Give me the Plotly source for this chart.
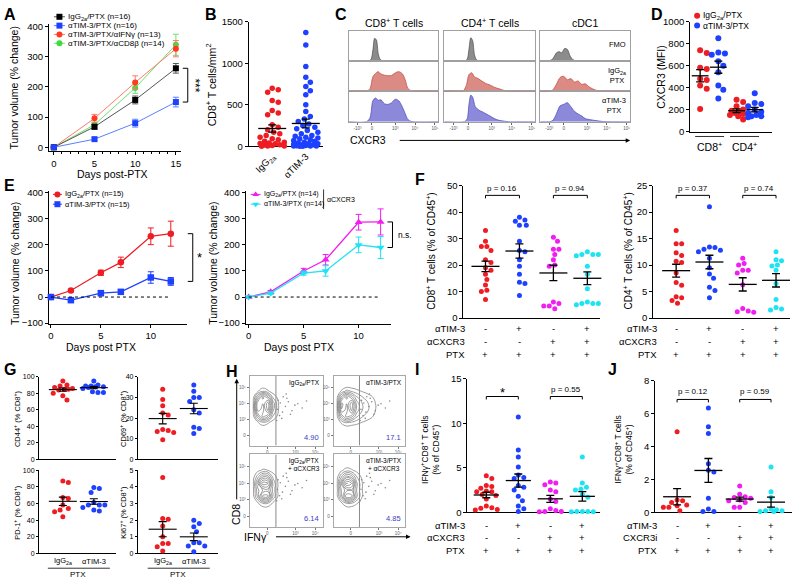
import numpy as np
import plotly.graph_objects as go

W, H = 795, 584
FONT = "Liberation Sans, Arial, Helvetica, sans-serif"
RED = "#ee1d23"; BLUE = "#1e40ff"; MAG = "#f01ef0"; CYAN = "#1ee3f2"
GREEN = "#3cdc3c"; BLACK = "#000000"; NUMBLUE = "#3c3cc8"

# ---------------- data ----------------
# A
a_days = [0, 5, 10, 15]
a_names = ["IgG<sub>2a</sub>/PTX (n=16)", "αTIM-3/PTX (n=16)", "αTIM-3/PTX/αIFNγ (n=13)", "αTIM-3/PTX/αCD8β (n=14)"]
a_igg = [0, 68, 157, 262]; a_igg_err = [2, 8, 13, 16]
a_tim = [0, 27, 80, 150]; a_tim_err = [2, 5, 13, 16]
a_ifng = [0, 96, 215, 327]; a_ifng_err = [2, 13, 22, 27]
a_cd8 = [0, 75, 197, 340]; a_cd8_err = [2, 8, 18, 35]

# B
b_cats = ["IgG<sub>2a</sub>", "αTIM-3"]
b_igg = [700, 680, 650, 550, 530, 430, 400, 380, 260, 230, 200, 170, 150, 130, 110, 90, 80, 60,
         50, 40, 35, 30, 20, 15, 10, 5, 5, 0]
b_tim = [1370, 1220, 960, 830, 770, 720, 670, 620, 500, 420, 360, 330, 300, 270, 250, 230, 210, 190,
         170, 150, 130, 120, 110, 100, 90, 80, 70, 60, 50, 40, 35, 30, 25, 20, 15, 10, 8, 5, 5, 3, 0, 0]

# C (flow histograms, CXCR3 axis in % of display width)
c_titles = ["CD8<sup>+</sup> T cells", "CD4<sup>+</sup> T cells", "cDC1"]
c_rowlab = ["FMO", "IgG<sub>2a</sub><br>PTX", "αTIM-3<br>PTX"]
c_hist = [
    [([0, 22, 25, 27, 29, 31, 33, 35, 38, 100], [0, 0, 0.05, 0.35, 0.78, 0.72, 0.25, 0.06, 0, 0]),
     ([0, 20, 24, 27, 30, 33, 36, 40, 44, 48, 52, 56, 60, 63, 66, 70, 100],
      [0, 0, 0.1, 0.5, 0.62, 0.68, 0.6, 0.56, 0.54, 0.55, 0.64, 0.68, 0.6, 0.4, 0.1, 0.02, 0]),
     ([0, 20, 24, 27, 30, 33, 36, 40, 44, 48, 52, 56, 60, 63, 66, 70, 100],
      [0, 0, 0.15, 0.72, 0.82, 0.74, 0.76, 0.62, 0.6, 0.66, 0.78, 0.72, 0.5, 0.28, 0.08, 0.01, 0])],
    [([0, 22, 25, 27, 29, 31, 33, 35, 38, 100], [0, 0, 0.05, 0.4, 0.8, 0.7, 0.22, 0.05, 0, 0]),
     ([0, 20, 24, 27, 30, 33, 36, 40, 45, 50, 55, 60, 65, 70, 100],
      [0, 0, 0.2, 0.58, 0.64, 0.5, 0.46, 0.38, 0.28, 0.22, 0.14, 0.09, 0.04, 0.01, 0]),
     ([0, 22, 25, 27, 29, 31, 34, 38, 42, 46, 50, 55, 60, 66, 72, 100],
      [0, 0, 0.1, 0.6, 0.92, 0.85, 0.52, 0.4, 0.34, 0.27, 0.2, 0.11, 0.05, 0.02, 0, 0])],
    [([0, 10, 14, 18, 21, 24, 27, 30, 33, 36, 40, 100], [0, 0, 0.08, 0.28, 0.32, 0.28, 0.43, 0.4, 0.18, 0.05, 0, 0]),
     ([0, 10, 14, 18, 22, 26, 30, 34, 38, 42, 46, 50, 54, 58, 62, 68, 100],
      [0, 0, 0.05, 0.25, 0.48, 0.52, 0.4, 0.44, 0.32, 0.36, 0.24, 0.26, 0.16, 0.09, 0.04, 0.01, 0]),
     ([0, 10, 14, 18, 22, 26, 30, 34, 38, 42, 46, 50, 56, 62, 70, 100],
      [0, 0, 0.05, 0.28, 0.55, 0.6, 0.66, 0.52, 0.36, 0.27, 0.2, 0.11, 0.07, 0.04, 0.01, 0])],
]
c_ticks = [10, 26, 52, 74, 96]
c_ticktext = ["-10³", "0", "10³", "10⁴", "10⁵"]

# D
d_names = ["IgG<sub>2a</sub>/PTX", "αTIM-3/PTX"]
d_cd8_igg = [740, 715, 580, 570, 480, 470, 420, 390, 205]
d_cd8_tim = [850, 720, 710, 700, 640, 600, 540, 420, 380, 300]
d_cd4_igg = [290, 270, 230, 200, 190, 180, 170, 160, 150, 140, 110]
d_cd4_tim = [350, 260, 250, 230, 200, 180, 170, 150, 140, 140, 130]

# E
e_days = [0, 2, 5, 7, 10, 12]
e_igg = [0, 25, 93, 133, 233, 243]; e_igg_err = [0, 5, 10, 20, 32, 48]
e_tim = [0, -12, 15, 20, 75, 60]; e_tim_err = [0, 6, 10, 8, 22, 15]
e_igg_x = [0, 20, 100, 143, 287, 288]; e_igg_x_err = [0, 5, 10, 20, 30, 50]
e_tim_x = [0, 15, 92, 100, 200, 190]; e_tim_x_err = [0, 5, 8, 20, 30, 42]

# F
f_cd8 = [[33, 29, 27, 27, 25.5, 22, 21, 19, 18, 16.5, 14.5, 12.5, 10.5, 10, 7],
         [38, 37, 36.5, 35, 35, 29, 25.5, 25, 22, 19.5, 16.5, 13.5, 13, 8.5],
         [30.5, 29, 26, 26, 24, 22, 20, 19.5, 6, 5.5, 4.5, 4.5, 3.5],
         [25, 24, 24, 24, 23.5, 19.5, 16.5, 11, 6, 5.5, 5.5, 5.5, 5]]
f_cd4 = [[16.5, 14, 14, 12.3, 11.8, 10.7, 10.5, 8.5, 6.7, 6.2, 4, 3.8, 3.3, 2.8],
         [21, 13.4, 13.3, 13, 12.8, 12.5, 11.3, 9.5, 8.3, 7.5, 5.8, 5.2, 3.8],
         [11.3, 10.3, 10, 9, 9, 8.5, 6.3, 1.8, 1.3, 1.2, 1.1],
         [12.5, 11, 10.8, 10, 9.8, 9, 6.5, 3.5, 2, 1.7, 1.5]]
f_pvals_cd8 = ["p = 0.16", "p = 0.94"]
f_pvals_cd4 = ["p = 0.37", "p = 0.74"]
row_names_cxcr3 = ["αTIM-3", "αCXCR3", "PTX"]
row_signs = [["-", "+", "-", "+"], ["-", "-", "+", "+"], ["+", "+", "+", "+"]]

# G
g_cd44 = [[95, 90, 89, 87, 86, 85, 85, 84, 80, 77, 72], [95, 90, 89, 89, 88, 88, 87, 86, 82, 81, 81]]
g_cd69 = [[34, 29, 26, 22.5, 21.5, 14.5, 14, 13.5, 13, 9.5], [36, 33, 30, 30, 28, 24, 22.5, 15.5, 15, 12.5]]
g_pd1 = [[87, 85, 67, 66, 58, 54, 52, 50, 44], [79, 78, 73, 61, 58, 58, 58, 55, 52, 51]]
g_ki67 = [[4.55, 2.1, 2.05, 1.65, 1.0, 0.6, 0.6, 0.4, 0.15], [2.0, 1.8, 1.6, 1.3, 0.65, 0.65, 0.45, 0.45, 0.1]]
g_cats = ["IgG<sub>2a</sub>", "αTIM-3"]

# H (contour density grids, display units 0-10)
h_x = [0.4, 1.1, 1.8, 2.5, 3.2, 4.0, 5.0, 6.2]
h_y = [2.4, 3.3, 4.2, 5.1, 6.0, 6.9, 7.8, 8.7]
h_z_igg = [[0, 0, 0, 0, 0, 0, 0, 0],
           [0, 0.8, 1.8, 1.2, 0.4, 0, 0, 0],
           [0.2, 4, 7, 5.5, 2, 0.5, 0, 0],
           [0.5, 7, 6, 9, 3.5, 0.8, 0.2, 0],
           [0.5, 7.5, 6.5, 9.5, 4, 0.8, 0.2, 0],
           [0.2, 4.5, 8, 6, 2, 0.5, 0, 0],
           [0, 0.8, 2, 1.2, 0.4, 0, 0, 0],
           [0, 0, 0, 0, 0, 0, 0, 0]]
h_z_tim = [[0, 0, 0, 0, 0, 0, 0, 0],
           [0, 1.2, 2.2, 1.8, 1.4, 0.9, 0.5, 0],
           [0.3, 4.5, 7, 6, 3.5, 2.2, 1.4, 0.4],
           [0.5, 7.5, 6, 9, 5, 3.2, 1.9, 0.6],
           [0.5, 8, 6.5, 9.5, 5, 3.2, 1.9, 0.6],
           [0.3, 5, 8, 6, 3.5, 2.2, 1.4, 0.4],
           [0, 1.2, 2.5, 2, 1.4, 0.9, 0.5, 0],
           [0, 0, 0, 0, 0, 0, 0, 0]]
h_z_igg_x = [[0, 0, 0, 0, 0, 0, 0, 0],
             [0, 0.8, 2.2, 2.2, 0.8, 0, 0, 0],
             [0.2, 3.5, 8, 8, 3, 0.5, 0, 0],
             [0.3, 4, 5.5, 6, 2.8, 0.5, 0, 0],
             [0.3, 5, 9.5, 9, 3, 0.6, 0.1, 0],
             [0.2, 2.8, 5.5, 5, 1.8, 0.3, 0, 0],
             [0, 0.6, 1.2, 1, 0.4, 0, 0, 0],
             [0, 0, 0, 0, 0, 0, 0, 0]]
h_z_tim_x = [[0, 0, 0, 0, 0, 0, 0, 0],
             [0, 0.8, 2.2, 2.2, 1.2, 0.3, 0, 0],
             [0.2, 4, 8.5, 8, 3.5, 1, 0.3, 0],
             [0.3, 4.5, 6, 6.5, 3.2, 1, 0.3, 0],
             [0.3, 5.5, 10, 9, 3.5, 1, 0.4, 0],
             [0.2, 3.2, 6, 5, 2.2, 0.6, 0.1, 0],
             [0, 0.8, 1.6, 1.2, 0.6, 0.1, 0, 0],
             [0, 0, 0, 0, 0, 0, 0, 0]]
h_ev_x = [3.8, 4.2, 4.5, 4.9, 5.3, 5.8, 6.2, 4.1, 4.6, 5.1, 3.9, 4.4, 5.6, 6.6, 7.2, 7.8, 3.7, 5.0]
h_ev_y = [5.2, 6.1, 4.8, 5.6, 6.3, 5.0, 5.8, 4.3, 7.0, 6.8, 6.5, 3.9, 4.5, 6.0, 5.4, 6.4, 3.6, 7.4]
h_labels = ["IgG<sub>2a</sub>/PTX", "αTIM-3/PTX", "IgG<sub>2a</sub>/PTX<br>+ αCXCR3", "αTIM-3/PTX<br>+ αCXCR3"]
h_pct = ["4.90", "17.1", "6.14", "4.85"]
h_gate = 3.6

# I, J
i_vals = [[4.1, 3.8, 3.0, 2.9, 2.7, 2.4, 2.3, 2.3, 2.0, 1.9, 1.5, 0.7, 0.5, 0.45, 0.3, 0.25],
          [10.7, 7.0, 6.2, 5.1, 4.2, 3.9, 3.8, 3.0, 2.8, 2.5, 1.8, 1.3, 0.7, 0.4, 0.1],
          [3.4, 3.3, 3.1, 2.5, 2.3, 1.5, 1.2, 0.4, 0.2, 0.1, 0.1, 0.05],
          [6.2, 3.3, 2.8, 2.6, 2.5, 2.0, 1.7, 0.1, 0.1, 0.1, 0.05, 0.05]]
j_vals = [[4.9, 0.75, 0.7, 0.6, 0.45, 0.4, 0.3, 0.3, 0.1],
          [6.35, 5.2, 4.8, 2.95, 2.55, 2.45, 0.85, 0.2, 0.05, 0.05],
          [1.6, 1.1, 0.95, 0.9, 0.85, 0.75, 0.7, 0.6, 0.3, 0.3],
          [2.75, 1.25, 0.9, 0.2, 0.15, 0.1, 0.1, 0.05, 0.05]]
i_pvals = ["*", "p = 0.55"]
j_pvals = ["p = 0.12", "p = 0.59"]
row_names_cxcr3i = ["αTIM-3", "CXCR3i", "PTX"]
grp_colors = [RED, BLUE, MAG, CYAN]

# ---------------- helpers ----------------
fig = go.Figure()
layout = dict(width=W, height=H, margin=dict(l=0, r=0, t=0, b=0, pad=0),
              paper_bgcolor="white", plot_bgcolor="rgba(0,0,0,0)", showlegend=False,
              font=dict(family=FONT, size=9, color="black"))
anns, shapes = [], []
_n = [0]


def mk(x0, x1, y0, y1, xr, yr, xa=None, ya=None, tick=9):
    _n[0] += 1
    i = _n[0]
    s = "" if i == 1 else str(i)
    base = dict(showgrid=False, zeroline=False, showline=True, linecolor="black", linewidth=1,
                ticks="outside", ticklen=3, tickwidth=1, tickcolor="black",
                tickfont=dict(size=tick, family=FONT, color="black"), fixedrange=True, layer="below traces")
    xd = dict(base, domain=[x0 / W, x1 / W], range=list(xr), anchor="y" + s)
    yd = dict(base, domain=[1 - y1 / H, 1 - y0 / H], range=list(yr), anchor="x" + s)
    if xa:
        xd.update(xa)
    if ya:
        yd.update(ya)
    layout["xaxis" + s] = xd
    layout["yaxis" + s] = yd
    return dict(x="x" + s, y="y" + s, px=(x0, x1), py=(y0, y1), xr=xr, yr=yr)


def PX(ax, v):
    return ax["px"][0] + (v - ax["xr"][0]) / (ax["xr"][1] - ax["xr"][0]) * (ax["px"][1] - ax["px"][0])


def PY(ax, v):
    return ax["py"][1] - (v - ax["yr"][0]) / (ax["yr"][1] - ax["yr"][0]) * (ax["py"][1] - ax["py"][0])


def T(x, y, s, size=9, xa="center", ya="middle", ang=0, color="black"):
    anns.append(dict(x=x / W, y=1 - y / H, xref="paper", yref="paper", text=s, showarrow=False,
                     xanchor=xa, yanchor=ya, textangle=ang, borderpad=0,
                     font=dict(size=size, color=color, family=FONT)))


def LN(x0, y0, x1, y1, color="black", w=1, dash=None):
    shapes.append(dict(type="line", xref="paper", yref="paper", x0=x0 / W, y0=1 - y0 / H,
                       x1=x1 / W, y1=1 - y1 / H, line=dict(color=color, width=w, dash=dash)))


def ARROW(x, y, dx, dy):
    anns.append(dict(x=x / W, y=1 - y / H, xref="paper", yref="paper", text="", showarrow=True,
                     ax=dx, ay=dy, axref="pixel", ayref="pixel", arrowhead=2, arrowsize=0.9,
                     arrowwidth=1, arrowcolor="black"))


def hbracket(x0, x1, y, tick=3):
    LN(x0, y, x1, y)
    LN(x0, y, x0, y + tick)
    LN(x1, y, x1, y + tick)


def vbracket(x, ya, yb, tick=5):
    LN(x, ya, x, yb)
    LN(x - tick, ya, x, ya)
    LN(x - tick, yb, x, yb)


def swarm(ax, xpos, vals, dpx, maxw=14):
    ys = [PY(ax, v) for v in vals]
    upx = (ax["px"][1] - ax["px"][0]) / (ax["xr"][1] - ax["xr"][0])
    order = sorted(range(len(vals)), key=lambda i: ys[i])
    steps = [0.0]
    k = 1
    while k * dpx * 0.25 <= maxw:
        steps += [k * dpx * 0.25, -k * dpx * 0.25]
        k += 1
    placed, off = [], [0.0] * len(vals)
    for i in order:
        best, bestd = 0.0, -1
        for c in steps:
            d = min([((c - a) ** 2 + (ys[i] - b) ** 2) for a, b in placed] or [1e9])
            if d >= dpx * dpx * 0.97:
                best = c
                break
            if d > bestd:
                best, bestd = c, d
        placed.append((best, ys[i]))
        off[i] = best
    return [xpos + o / upx for o in off]


def dots(ax, xpos, vals, color, size=5, maxw=14):
    xs = swarm(ax, xpos, vals, size * 1.1, maxw)
    fig.add_trace(go.Scatter(x=xs, y=vals, mode="markers", xaxis=ax["x"], yaxis=ax["y"],
                             marker=dict(color=color, size=size, line=dict(width=0)),
                             cliponaxis=False, hoverinfo="skip"))


def meansem(ax, xpos, vals, halfw=10, cap=4, lw=1.3):
    m = float(np.mean(vals))
    s = float(np.std(vals, ddof=1) / np.sqrt(len(vals)))
    fig.add_trace(go.Scatter(x=[xpos], y=[m], mode="markers", xaxis=ax["x"], yaxis=ax["y"],
                             marker=dict(symbol="line-ew", size=2 * halfw, color="black",
                                         line=dict(color="black", width=lw)),
                             error_y=dict(type="data", array=[s], color="black", thickness=lw, width=cap),
                             cliponaxis=False, hoverinfo="skip"))


def series(ax, xs, ys, err, color, lcolor, symbol, size=6, lw=1):
    fig.add_trace(go.Scatter(x=xs, y=ys, mode="lines+markers", xaxis=ax["x"], yaxis=ax["y"],
                             line=dict(color=lcolor, width=lw),
                             marker=dict(symbol=symbol, size=size, color=color),
                             error_y=dict(type="data", array=err, color=lcolor, thickness=1, width=3),
                             cliponaxis=False, hoverinfo="skip"))


legend_items = []

NOX = dict(showticklabels=False, ticks="")

# ---------------- Panel A ----------------
T(2, 9, "<b>A</b>", 16, "left")
axA = mk(48, 180, 18, 148, [-0.6, 15.6], [-13, 410], tick=9.5,
         xa=dict(tickvals=a_days, minor=dict(ticks="outside", ticklen=2, dtick=1, tickcolor="black")),
         ya=dict(tickvals=[0, 100, 200, 300, 400]))
series(axA, a_days, a_cd8, a_cd8_err, GREEN, "#70e070", "circle")
series(axA, a_days, a_ifng, a_ifng_err, "#ff3a1f", "#ff7a6a", "circle")
series(axA, a_days, a_igg, a_igg_err, BLACK, "#555555", "square")
series(axA, a_days, a_tim, a_tim_err, BLUE, "#5a80ff", "square")
T(13, 83, "Tumor volume (% change)", 10.5, ang=-90)
T(112, 171, "Days post-PTX", 10.5)
vbracket(187, PY(axA, a_igg[-1]), PY(axA, a_tim[-1]))
T(194, (PY(axA, a_igg[-1]) + PY(axA, a_tim[-1])) / 2, "***", 12, ang=90)
for k, (nm, col, lc, sym) in enumerate(zip(a_names, [BLACK, BLUE, "#ff3a1f", GREEN],
                                            ["#555555", "#5a80ff", "#ff7a6a", "#70e070"],
                                            ["square", "square", "circle", "circle"])):
    legend_items.append((53, 64, 11 + 9 * k, col, lc, sym, 6, nm, 8))

# ---------------- Panel B ----------------
T(203, 9, "<b>B</b>", 16, "left")
axB = mk(248, 322, 16, 143, [-0.7, 1.5], [0, 1500], tick=9.5,
         xa=dict(tickvals=[0, 1], ticktext=b_cats, tickangle=-45, ticks=""),
         ya=dict(tickvals=[0, 500, 1000, 1500]))
dots(axB, 0, b_igg, RED, 5.5, 13)
dots(axB, 1, b_tim, BLUE, 5.5, 13)
meansem(axB, 0, b_igg, 10, 4)
meansem(axB, 1, b_tim, 10, 4)
T(210, 80, "CD8<sup>+</sup> T cells/mm<sup>2</sup>", 10.5, ang=-90)

# ---------------- Panel C ----------------
T(333, 9, "<b>C</b>", 16, "left")
c_cols = [(348, 438), (444, 535), (540, 630)]
c_rows = [(25, 56), (56, 87), (87, 118)]
c_fill = ["#8c8c8c", "#dc8a84", "#8c88da"]
c_line = ["#555555", "#c8504a", "#5550c0"]
for j, (cx0, cx1) in enumerate(c_cols):
    T((cx0 + cx1) / 2, 17, c_titles[j], 10.5)
    for i, (ry0, ry1) in enumerate(c_rows):
        bottom = (i == 2)
        xa = dict(mirror=True, linecolor="#a0a0a0", showticklabels=bottom, ticks="outside" if bottom else "",
                  tickvals=c_ticks, ticktext=c_ticktext, ticklen=2, tickcolor="#666",
                  tickfont=dict(size=4.5, color="#555", family=FONT))
        ya = dict(mirror=True, linecolor="#a0a0a0", showticklabels=False, ticks="")
        ax = mk(cx0, cx1, ry0, ry1, [0, 100], [0, 1.05], xa=xa, ya=ya)
        hx, hy = c_hist[j][i]
        fig.add_trace(go.Scatter(x=hx, y=hy, mode="lines", fill="tozeroy", xaxis=ax["x"], yaxis=ax["y"],
                                 line=dict(color=c_line[i], width=0.8, shape="spline", smoothing=0.8),
                                 fillcolor=c_fill[i], hoverinfo="skip"))
for i, (ry0, ry1) in enumerate(c_rows):
    T(627, (ry0 + ry1) / 2 - 1, c_rowlab[i], 7.5, "right")
T(348, 137, "CXCR3", 10.5, "left")
ARROW(630, 137, -232, 0)

# ---------------- Panel D ----------------
T(650, 9, "<b>D</b>", 16, "left")
axD = mk(690, 772, 16, 128, [-0.55, 3.95], [0, 1000], tick=9.5, xa=NOX,
         ya=dict(tickvals=[0, 200, 400, 600, 800, 1000]))
for k, (vals, col) in enumerate(zip([d_cd8_igg, d_cd8_tim, d_cd4_igg, d_cd4_tim], [RED, BLUE, RED, BLUE])):
    dots(axD, k, vals, col, 6, 8)
    meansem(axD, k, vals, 6, 4)
T(660, 72, "CXCR3 (MFI)", 10.5, ang=-90)
LN(695, 133, 724, 133, "#333", 1)
LN(730, 133, 759, 133, "#333", 1)
T(709.5, 143, "CD8<sup>+</sup>", 10.5)
T(744.5, 143, "CD4<sup>+</sup>", 10.5)

# ---------------- Panel E ----------------
T(2, 183, "<b>E</b>", 16, "left")
ya_E = dict(tickvals=[-100, 0, 100, 200, 300, 400])
axEl = mk(48, 186, 189, 324, [-0.2, 13.6], [-103, 405], tick=9.5, xa=dict(tickvals=[0, 5, 10]), ya=ya_E)
axEr = mk(245, 390, 189, 324, [-0.27, 12.9], [-103, 405], tick=9.5, xa=dict(tickvals=[0, 5, 10]), ya=ya_E)
for ax in (axEl, axEr):
    shapes.append(dict(type="line", xref=ax["x"], yref=ax["y"], x0=0, x1=12, y0=0, y1=0,
                       line=dict(color="black", width=1, dash="dot")))
series(axEl, e_days, e_igg, e_igg_err, RED, RED, "circle", 6.5, 1.3)
series(axEl, e_days, e_tim, e_tim_err, BLUE, BLUE, "square", 6.5, 1.3)
series(axEr, e_days, e_igg_x, e_igg_x_err, MAG, MAG, "triangle-up", 7, 1.3)
series(axEr, e_days, e_tim_x, e_tim_x_err, CYAN, CYAN, "triangle-down", 7, 1.3)
T(14, 262, "Tumor volume (% change)", 10.5, ang=-90)
T(212, 262, "Tumor volume (% change)", 10.5, ang=-90)
T(100, 348, "Days post PTX", 10.5)
T(298, 348, "Days post PTX", 10.5)
vbracket(192, PY(axEl, e_igg[-1]), PY(axEl, e_tim[-1]))
T(199, (PY(axEl, e_igg[-1]) + PY(axEl, e_tim[-1])) / 2, "*", 13)
vbracket(392, PY(axEr, e_igg_x[-1]), PY(axEr, e_tim_x[-1]))
T(396, (PY(axEr, e_igg_x[-1]) + PY(axEr, e_tim_x[-1])) / 2, "n.s.", 8.5, "left")
legend_items.append((52, 61, 192, RED, RED, "circle", 6, "IgG<sub>2a</sub>/PTX (n=15)", 7.5))
legend_items.append((52, 61, 202, BLUE, BLUE, "square", 6, "αTIM-3/PTX (n=15)", 7.5))
legend_items.append((250, 260, 192, MAG, MAG, "triangle-up", 6, "IgG<sub>2a</sub>/PTX (n=14)", 7))
legend_items.append((250, 260, 202, CYAN, CYAN, "triangle-down", 6, "αTIM-3/PTX (n=14)", 7))
LN(323, 187, 323, 207, "black", 0.8)
T(325, 197, "αCXCR3", 7, "left")


# ---------------- Panels F, I, J (dot plots with +/- tables) ----------------
def table(ax, xr_right, ys, names, size=9.5):
    for r, (yy, nm) in enumerate(zip(ys, names)):
        T(xr_right, yy, nm, size, "right")
        for c in range(4):
            T(PX(ax, c), yy, row_signs[r][c], size)


T(414, 177, "<b>F</b>", 16, "left")
axFl = mk(463, 600, 183, 318, [-0.65, 3.38], [0, 50], tick=9.5, xa=NOX, ya=dict(tickvals=[0, 10, 20, 30, 40, 50]))
axFr = mk(653, 790, 183, 318, [-0.69, 3.42], [0, 25], tick=9.5, xa=NOX, ya=dict(tickvals=[0, 5, 10, 15, 20, 25]))
for ax, data, pv in ((axFl, f_cd8, f_pvals_cd8), (axFr, f_cd4, f_pvals_cd4)):
    for c in range(4):
        dots(ax, c, data[c], grp_colors[c], 5, 14)
        meansem(ax, c, data[c], 10, 4)
    hbracket(PX(ax, 0), PX(ax, 1), 193)
    hbracket(PX(ax, 2), PX(ax, 3), 193)
    T((PX(ax, 0) + PX(ax, 1)) / 2, 186, pv[0], 8)
    T((PX(ax, 2) + PX(ax, 3)) / 2, 186, pv[1], 8)
table(axFl, 466, [329, 342, 355], row_names_cxcr3)
table(axFr, 658, [329, 342, 355], row_names_cxcr3)
T(431, 250, "CD8<sup>+</sup> T cells (% of CD45<sup>+</sup>)", 10, ang=-90)
T(628, 250, "CD4<sup>+</sup> T cells (% of CD45<sup>+</sup>)", 10, ang=-90)

T(414, 370, "<b>I</b>", 16, "left")
axI = mk(467, 600, 380, 516, [-0.59, 3.56], [0, 15], tick=9.5, xa=NOX, ya=dict(tickvals=[0, 5, 10, 15]))
for c in range(4):
    dots(axI, c, i_vals[c], grp_colors[c], 5, 14)
    meansem(axI, c, i_vals[c], 9, 4)
hbracket(PX(axI, 0), PX(axI, 1), 398)
hbracket(PX(axI, 2), PX(axI, 3), 398)
T((PX(axI, 0) + PX(axI, 1)) / 2, 394, i_pvals[0], 13)
T((PX(axI, 2) + PX(axI, 3)) / 2, 391, i_pvals[1], 8)
table(axI, 466, [529, 542, 555], row_names_cxcr3)
T(430, 452, "IFNγ<sup>+</sup>CD8<sup>+</sup> T cells<br>(% of CD45<sup>+</sup>)", 8.5, ang=-90)

T(607, 370, "<b>J</b>", 16, "left")
axJ = mk(655, 792, 382, 516, [-0.7, 3.67], [0, 8], tick=9.5, xa=NOX, ya=dict(tickvals=[0, 2, 4, 6, 8]))
for c in range(4):
    dots(axJ, c, j_vals[c], grp_colors[c], 5, 14)
    meansem(axJ, c, j_vals[c], 10, 4)
hbracket(PX(axJ, 0), PX(axJ, 1), 401)
hbracket(PX(axJ, 2), PX(axJ, 3), 401)
T((PX(axJ, 0) + PX(axJ, 1)) / 2, 393, j_pvals[0], 8)
T((PX(axJ, 2) + PX(axJ, 3)) / 2, 393, j_pvals[1], 8)
table(axJ, 658, [529, 542, 555], row_names_cxcr3i)
T(624, 452, "IFNγ<sup>+</sup>CD8<sup>+</sup> T cells<br>(% of CD45<sup>+</sup>)", 8.5, ang=-90)

# ---------------- Panel G ----------------
T(2, 370, "<b>G</b>", 16, "left")
g_specs = [(g_cd44, 38, 115, 378, 462, [-0.77, 1.71], [0, 100], [0, 20, 40, 60, 80, 100], "CD44", 16),
           (g_cd69, 137, 217, 378, 462, [-0.8, 1.77], [0, 40], [0, 10, 20, 30, 40], "CD69", 122),
           (g_pd1, 38, 115, 473, 558, [-0.77, 1.71], [0, 100], [0, 20, 40, 60, 80, 100], "PD-1", 16),
           (g_ki67, 137, 217, 473, 558, [-0.8, 1.77], [0, 5], [0, 1, 2, 3, 4, 5], "Ki67", 122)]
for data, x0, x1, y0, y1, xr, yr, tv, nm, tx in g_specs:
    ax = mk(x0, x1, y0, y1, xr, yr, tick=7, xa=NOX, ya=dict(tickvals=tv, ticklen=2))
    for c in range(2):
        dots(ax, c, data[c], [RED, BLUE][c], 5, 12)
        meansem(ax, c, data[c], 10, 4, 1.1)
    T(tx, (y0 + y1) / 2, nm + "<sup>+</sup> (% CD8<sup>+</sup>)", 7.5, ang=-90)
    if y0 > 470:
        T(PX(ax, 0), 566, g_cats[0], 7.5)
        T(PX(ax, 1), 566, g_cats[1], 7.5)
        LN(PX(ax, 0) - 15, 573, PX(ax, 1) + 16, 573, "#333", 1)
        T((PX(ax, 0) + PX(ax, 1)) / 2, 579, "PTX", 8)

# ---------------- Panel H ----------------
T(224, 373, "<b>H</b>", 16, "left")
h_boxes = [(249, 322, 377, 448), (333, 405, 377, 448), (249, 322, 457, 531), (333, 405, 457, 531)]
h_grids = [h_z_igg, h_z_tim, h_z_igg_x, h_z_tim_x]
for k, (x0, x1, y0, y1) in enumerate(h_boxes):
    xa = dict(mirror=True, linecolor="#a8a8a8", ticks="outside", ticklen=2, tickcolor="#777",
              tickvals=[2.4, 6.3, 9.0], ticktext=["0", "10³", "10⁴"],
              tickfont=dict(size=4.5, color="#666", family=FONT))
    ya = dict(mirror=True, linecolor="#a8a8a8", ticks="outside", ticklen=2, tickcolor="#777",
              tickvals=[1.5, 3.8, 6.0, 8.3], ticktext=["0", "10³", "10⁴", "10⁵"],
              tickfont=dict(size=4.5, color="#666", family=FONT))
    ax = mk(x0, x1, y0, y1, [0, 10], [0, 10], xa=xa, ya=ya)
    fig.add_trace(go.Scatter(x=h_ev_x, y=h_ev_y, mode="markers", xaxis=ax["x"], yaxis=ax["y"],
                             marker=dict(size=1.6, color="#8a8a8a"), hoverinfo="skip"))
    fig.add_trace(go.Contour(x=h_x, y=h_y, z=h_grids[k], xaxis=ax["x"], yaxis=ax["y"],
                             contours=dict(coloring="lines", start=1.0, end=10.5, size=1.1),
                             line=dict(width=0.6, smoothing=1.3),
                             colorscale=[[0, "#5a5a5a"], [1, "#5a5a5a"]], showscale=False, hoverinfo="skip"))
    shapes.append(dict(type="line", xref=ax["x"], yref=ax["y"], x0=h_gate, x1=h_gate, y0=0, y1=10,
                       line=dict(color="#8a8a8a", width=1)))
    T(x1 - 2, y0 + 2, h_labels[k], 6.5, "right", "top")
    T(x1 - 3, y1 - 3, h_pct[k], 7.5, "right", "bottom", color=NUMBLUE)
T(236, 518, "CD8", 10.5, ang=-90)
ARROW(236, 380, 0, 122)
T(255, 541, "IFNγ", 10.5)
ARROW(410, 541, -136, 0)

# ---------------- legend canvas ----------------
cv = mk(0, W, 0, H, [0, W], [H, 0], xa=dict(visible=False), ya=dict(visible=False))
for x0, x1, y, col, lc, sym, sz, txt, tsz in legend_items:
    fig.add_trace(go.Scatter(x=[x0, x1], y=[y, y], mode="lines", xaxis=cv["x"], yaxis=cv["y"],
                             line=dict(color=lc, width=1), hoverinfo="skip"))
    fig.add_trace(go.Scatter(x=[(x0 + x1) / 2], y=[y], mode="markers", xaxis=cv["x"], yaxis=cv["y"],
                             marker=dict(symbol=sym, size=sz, color=col), hoverinfo="skip"))
    T(x1 + 2, y, txt, tsz, "left")
for y, col, txt in ((10, RED, d_names[0]), (20, BLUE, d_names[1])):
    fig.add_trace(go.Scatter(x=[697], y=[y], mode="markers", xaxis=cv["x"], yaxis=cv["y"],
                             marker=dict(size=6, color=col), hoverinfo="skip"))
    T(702, y, txt, 8.5, "left")

layout["annotations"] = anns
layout["shapes"] = shapes
fig.update_layout(**layout)
fig.write_html("out.html", config={"displayModeBar": False, "staticPlot": True},
               post_script="document.body.style.margin='0px';document.body.style.overflow='hidden';")
